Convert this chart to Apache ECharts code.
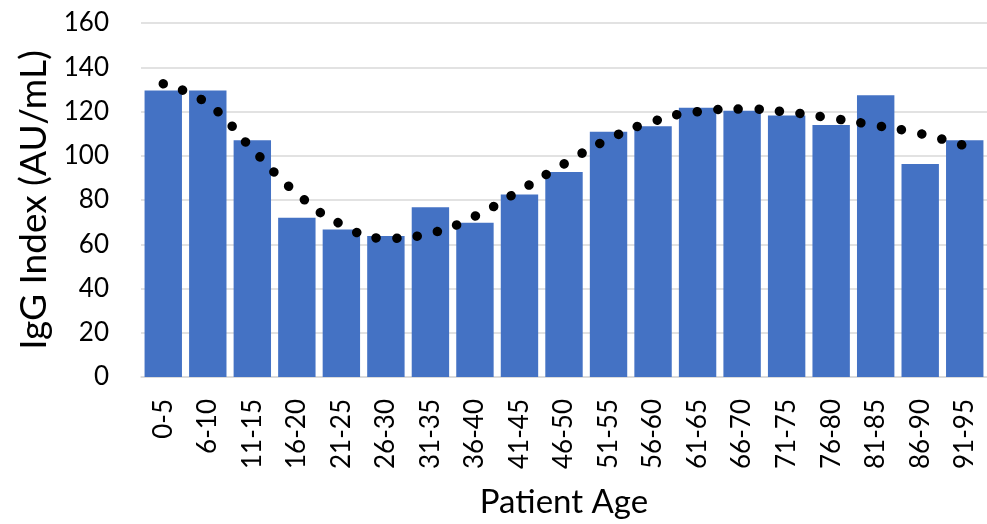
<!DOCTYPE html>
<html><head><meta charset="utf-8">
<script src="https://cdn.jsdelivr.net/npm/echarts@6/dist/echarts.min.js"></script>
<style>html,body{margin:0;padding:0;background:#fff}#c{width:987px;height:524px}</style>
</head><body><div id="c"></div>
<script>
const categories = ["0-5","6-10","11-15","16-20","21-25","26-30","31-35","36-40","41-45","46-50","51-55","56-60","61-65","66-70","71-75","76-80","81-85","86-90","91-95"];
const igg = [129.5,129.5,107,72,66.7,63.7,76.7,69.7,82.5,92.7,110.9,113.3,121.7,120.3,118.2,113.9,127.4,96.3,107];
const trend = [132.5,123.5,103,83,69,62.7,65,72.7,84.2,96.3,107.5,115.5,119.9,121.1,119.8,117,113.7,110,104.5];
const yTicks = {min:0, max:160, interval:20};
const FONT = "Lato, 'Open Sans', sans-serif";
const chart = echarts.init(document.getElementById('c'), null, {renderer:'canvas'});
chart.setOption({
  animation:false,
  backgroundColor:'#fff',
  grid:{left:141, right:0, top:23, bottom:146, containLabel:false},
  xAxis:{
    type:'category', data:categories,
    name:'Patient Age', nameLocation:'middle', nameGap:109,
    nameTextStyle:{fontFamily:FONT, fontSize:33, color:'#000'},
    axisLine:{lineStyle:{color:'#d9d9d9', width:1.5}},
    axisTick:{show:false},
    axisLabel:{rotate:90, margin:22, fontFamily:FONT, fontSize:26, color:'#000', interval:0}
  },
  yAxis:{
    type:'value', min:yTicks.min, max:yTicks.max, interval:yTicks.interval,
    name:'IgG Index (AU/mL)', nameLocation:'middle', nameGap:76,
    nameTextStyle:{fontFamily:FONT, fontSize:37, color:'#000'},
    axisLine:{show:false}, axisTick:{show:false},
    axisLabel:{margin:32, fontFamily:FONT, fontSize:26, color:'#000'},
    splitLine:{lineStyle:{color:'#d9d9d9', width:1.5}}
  },
  series:[
    {type:'bar', data:igg, barCategoryGap:'16%', itemStyle:{color:'#4472C4'}},
    {type:'line', data:trend, smooth:0.5, symbol:'none', z:5,
     lineStyle:{color:'#000', width:9.5, type:[0.1,20.5], cap:'round'}}
  ]
});
</script></body></html>
